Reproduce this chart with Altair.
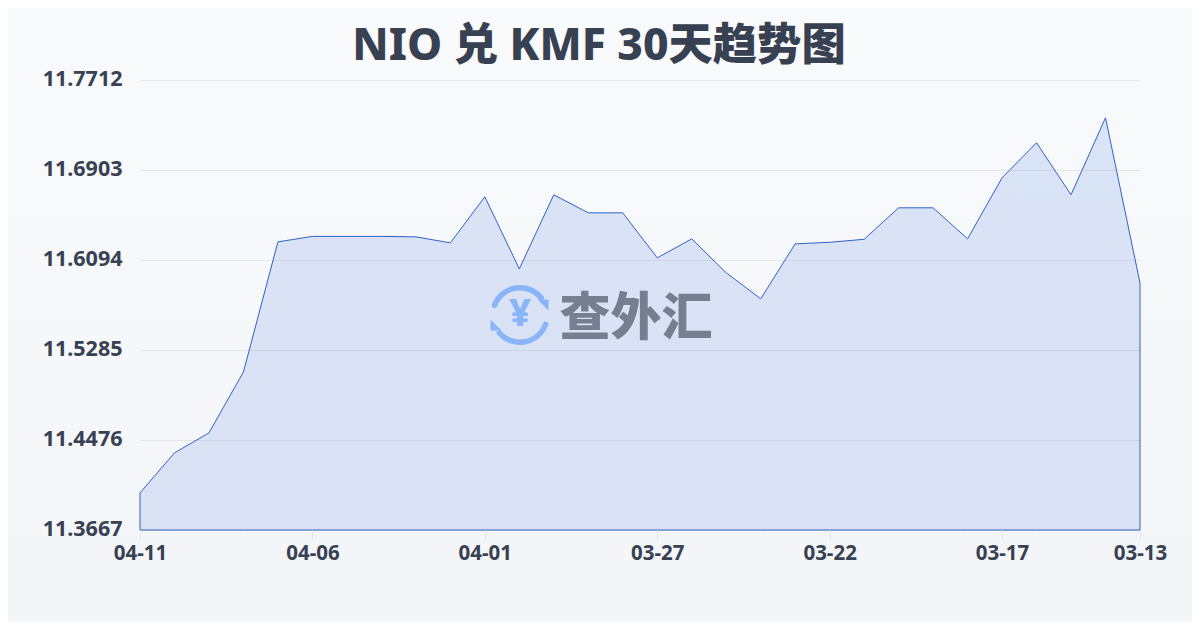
import altair as alt
import pandas as pd

dates = ["04-11","04-10","04-09","04-08","04-07","04-06","04-05","04-04","04-03","04-02",
         "04-01","03-31","03-30","03-29","03-28","03-27","03-26","03-25","03-24","03-23",
         "03-22","03-21","03-20","03-19","03-18","03-17","03-16","03-15","03-14","03-13"]
rates = [11.4000,11.4360,11.4540,11.5088,11.6257,11.6306,11.6306,11.6306,11.6302,11.6248,
         11.6662,11.6014,11.6680,11.6518,11.6518,11.6113,11.6284,11.5979,11.5745,11.6239,
         11.6253,11.6280,11.6563,11.6563,11.6284,11.6833,11.7148,11.6680,11.7373,11.5887]
y_ticks = [11.3667,11.4476,11.5285,11.6094,11.6903,11.7712]
x_tick_pos = [0,5,10,15,20,25,29]
title_text = "NIO 兑 KMF 30天趋势图"
FONT = "Noto Sans, Noto Sans CJK SC"

df = pd.DataFrame({"i": list(range(len(dates))), "date": dates, "rate": rates,
                   "base": [y_ticks[0]] * len(dates)})
one = pd.DataFrame({"k": [0]})

bg = alt.Chart(one).mark_rect(
    color=alt.Gradient(gradient="linear", x1=0, x2=0, y1=0, y2=1,
                       stops=[alt.GradientStop(color="#f9fafc", offset=0),
                              alt.GradientStop(color="#f3f5f8", offset=1)]),
    clip=False,
).encode(x=alt.value(-132), x2=alt.value(1052), y=alt.value(-72), y2=alt.value(542))

label_expr = "[" + ",".join(f"'{d}'" for d in dates) + "][datum.value]"
x_enc = alt.X("i:Q", title=None,
              scale=alt.Scale(domain=[0, len(dates) - 1], nice=False, zero=False),
              axis=alt.Axis(values=x_tick_pos, labelExpr=label_expr, labelAngle=0, labelFont=FONT,
                            labelFontSize=20.5, labelFontWeight=700, labelColor="#374151",
                            labelPadding=3, tickColor="#e5e7eb", tickSize=10, domain=False,
                            grid=False, labelOverlap=False, labelFlush=False, zindex=1))
y_enc = alt.Y("rate:Q", title=None,
              scale=alt.Scale(domain=[y_ticks[0], y_ticks[-1]], nice=False, zero=False),
              axis=alt.Axis(values=y_ticks, format=".4f", labelFont=FONT, labelFontSize=21.5,
                            labelFontWeight=700, labelColor="#374151", labelPadding=18,
                            labelOffset=-1, ticks=False, domain=False, grid=True,
                            gridColor="#1f2937", gridOpacity=0.08, gridWidth=1, zindex=1))

area = alt.Chart(df).mark_area(
    color=alt.Gradient(gradient="linear", x1=0, x2=0, y1=0, y2=1,
                       stops=[alt.GradientStop(color="#d9e4f6", offset=0),
                              alt.GradientStop(color="#dae1f4", offset=1)]),
    stroke="#2f62c9", strokeWidth=1, clip=False,
).encode(x=x_enc, y=y_enc, y2="base:Q")

def txt(text, x, y, size, color, weight=700, **kw):
    return alt.Chart(pd.DataFrame({"t": [text]})).mark_text(
        font=FONT, fontSize=size, fontWeight=weight, color=color, baseline="middle", **kw
    ).encode(text="t:N", x=alt.value(x), y=alt.value(y))

title = txt(title_text, 459, -33, 44.3, "#374151", 800)

BLUE = "#8ab4f8"
cx, cy = 520 - 140, 315 - 80
def arc(t0, t1):
    return alt.Chart(one).mark_arc(radius=30, radius2=24.5, theta=t0, theta2=t1, color=BLUE,
                                   cornerRadius=2.5).encode(x=alt.value(cx), y=alt.value(cy))
arc1 = arc(4.98, 7.28)
arc2 = arc(1.82, 4.10)
tri1 = alt.Chart(one).mark_point(shape="M-1,-1 L1,-1 L1,1 Z", size=120, filled=True, color=BLUE, opacity=1
    ).encode(x=alt.value(548 - 140 - 5), y=alt.value(305 - 80))
tri2 = alt.Chart(one).mark_point(shape="M-1,-1 L1,1 L-1,1 Z", size=120, filled=True, color=BLUE, opacity=1
    ).encode(x=alt.value(491 - 140 + 5), y=alt.value(325 - 80))
yen = txt("¥", cx, cy, 38, BLUE, 800)
brand = txt("查外汇", 636 - 140, 240, 51, "#767f8f", 900)

chart = alt.layer(bg, area, arc1, arc2, tri1, tri2, yen, brand, title).properties(
    width=1000, height=450, background="#f7f8fa",
    padding={"left": 132, "right": 52, "top": 72, "bottom": 92},
    autosize=alt.AutoSizeParams(type="none"),
).configure_view(stroke=None)

chart.save("out.html", embed_options={"renderer": "svg", "actions": False})
